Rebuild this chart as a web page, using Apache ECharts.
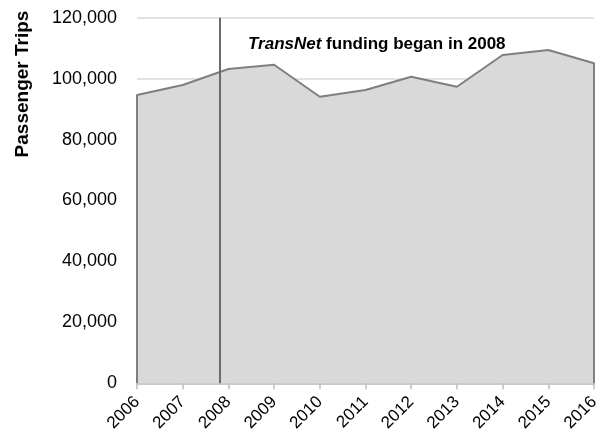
<!DOCTYPE html>
<html>
<head>
<meta charset="utf-8">
<script src="https://cdn.jsdelivr.net/npm/echarts@6/dist/echarts.min.js"></script>
<style>
  html, body { margin: 0; padding: 0; background: #fff; }
  #chart { width: 605px; height: 442px; }
</style>
</head>
<body>
<div id="chart"></div>
<script>
// Annual passenger trips, 2006-2016
const years = ['2006', '2007', '2008', '2009', '2010', '2011', '2012', '2013', '2014', '2015', '2016'];
const trips = [94630, 97910, 103160, 104570, 94070, 96270, 100630, 97350, 107760, 109400, 105030];
const yTicks = [0, 20000, 40000, 60000, 80000, 100000, 120000];
const fundingStart = 2007.82;
const noteBold = 'TransNet';
const noteRest = ' funding began in 2008';
const yTitle = 'Passenger Trips';

// closed outline: down to zero at both ends so the border runs along the sides
const pts = years.map((y, i) => [Number(y), trips[i]]);
const outline = [[Number(years[0]), 0]].concat(pts, [[Number(years[years.length - 1]), 0]]);

const font = 'Liberation Sans';
const chart = echarts.init(document.getElementById('chart'), null, { renderer: 'canvas' });

chart.setOption({
  animation: false,
  backgroundColor: '#ffffff',
  grid: { left: 137, right: 11, top: 17.7, bottom: 58.7, containLabel: false },
  title: {
    text: '{i|' + noteBold + '}' + noteRest,
    left: 243,
    top: 31,
    textStyle: {
      fontFamily: font, fontSize: 17, fontWeight: 'bold', color: '#000',
      rich: { i: { fontFamily: font, fontSize: 17, fontWeight: 'bold', fontStyle: 'italic', color: '#000' } }
    }
  },
  graphic: [{
    type: 'text',
    x: 23, y: 84,
    rotation: Math.PI / 2,
    style: {
      text: yTitle, fontFamily: font, fontSize: 19, fontWeight: 'bold', fill: '#000',
      align: 'center', verticalAlign: 'middle'
    }
  }],
  xAxis: {
    type: 'value',
    min: Number(years[0]),
    max: Number(years[years.length - 1]),
    interval: 1,
    splitLine: { show: false },
    axisLine: { show: true, lineStyle: { color: '#bfbfbf', width: 1.5 } },
    axisTick: { show: true, length: 6, lineStyle: { color: '#bfbfbf', width: 1.5 } },
    axisLabel: {
      rotate: 45, margin: 16, fontFamily: font, fontSize: 17, color: '#000',
      formatter: v => years.find(y => Number(y) === v) || ''
    }
  },
  yAxis: {
    type: 'value',
    min: yTicks[0],
    max: yTicks[yTicks.length - 1],
    interval: yTicks[1] - yTicks[0],
    axisLine: { show: false },
    axisTick: { show: false },
    splitLine: { show: true, lineStyle: { color: '#d9d9d9', width: 1.5 } },
    axisLabel: { margin: 20, fontFamily: font, fontSize: 18, color: '#000' }
  },
  series: [{
    type: 'line',
    data: outline,
    symbol: 'none',
    lineStyle: { color: '#7f7f7f', width: 2 },
    areaStyle: { color: '#d9d9d9', opacity: 1 },
    z: 2,
    markLine: {
      silent: true,
      symbol: ['none', 'none'],
      label: { show: false },
      lineStyle: { color: '#6b6b6b', width: 2, type: 'solid' },
      data: [[{ coord: [fundingStart, yTicks[0]] }, { coord: [fundingStart, yTicks[yTicks.length - 1]] }]]
    }
  }]
});
</script>
</body>
</html>
